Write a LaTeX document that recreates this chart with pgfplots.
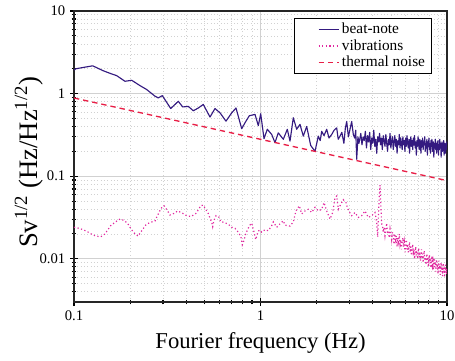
\documentclass[border=0pt]{standalone}
\usepackage{fontspec}
\setmainfont{Liberation Serif}
\usepackage{pgfplots}
\pgfplotsset{compat=1.18}
\definecolor{beat}{RGB}{52,26,128}
\definecolor{vib}{RGB}{225,40,160}
\definecolor{therm}{RGB}{232,30,70}
\begin{document}
\begin{tikzpicture}
\begin{axis}[
  xmode=log, ymode=log, scale only axis, width=279.75pt, height=218.25pt,
  xmin=0.1, xmax=10, ymin=0.003, ymax=10,
  xtick={0.1,1,10}, xticklabels={0.1,1,10},
  ytick={0.01,0.1,1,10}, yticklabels={0.01,0.1,1,10},
  minor xtick={0.2,0.3,0.4,0.5,0.6,0.7,0.8,0.9,2,3,4,5,6,7,8,9},
  minor ytick={0.004,0.005,0.006,0.007,0.008,0.009,0.02,0.03,0.04,0.05,0.06,0.07,0.08,0.09,0.2,0.3,0.4,0.5,0.6,0.7,0.8,0.9,2,3,4,5,6,7,8,9},
  grid=both,
  major grid style={draw=black!18, line width=0.7pt},
  minor grid style={draw=black!18, line width=0.5pt, dotted},
  axis line style={line width=1.1pt, black!85},
  tick style={black, line width=0.8pt}, tick align=center,
  major tick length=6pt, minor tick length=3.5pt,
  xtick pos=bottom, ytick pos=left,
  ticklabel style={font=\fontsize{11}{13}\selectfont},
  xlabel={Fourier frequency (Hz)},
  xlabel style={font=\fontsize{17}{20}\selectfont, at={(axis description cs:0.5,-0.158)}, anchor=base},
  ylabel={Sv\textsuperscript{1/2} (Hz/Hz\textsuperscript{1/2})},
  ylabel style={font=\fontsize{20}{24}\selectfont, at={(axis description cs:-0.099,0.48)}, anchor=base},
  legend style={at={(0.96,0.976)}, anchor=north east, draw=black, line width=0.6pt,
    font=\fontsize{11.5}{13.5}\selectfont, inner xsep=3pt, inner ysep=1.5pt, row sep=-1pt},
  legend cell align=left,
  legend image code/.code={\path[draw=none] (0pt,0pt) rectangle (1pt,0.1pt); \draw[#1] (15pt,0pt) -- (30pt,0pt);},
]
\coordinate (SW) at (rel axis cs:0,0);
\coordinate (NE) at (rel axis cs:1,1);
\addplot[color=beat, line width=0.85pt, line join=round] coordinates {
(0.100,1.93) (0.1025,2.00) (0.113,2.08) (0.126,2.17) (0.1436,1.89) (0.156,1.76) (0.1694,1.65)
(0.1877,1.41) (0.2039,1.45) (0.2258,1.25) (0.2454,1.12) (0.2719,0.93) (0.2831,0.887) (0.2975,0.946)
(0.3301,0.66) (0.3625,0.807) (0.3827,0.69) (0.4102,0.70) (0.4363,0.62) (0.4641,0.67) (0.4935,0.74)
(0.5361,0.52) (0.5702,0.66) (0.6067,0.585) (0.6531,0.464) (0.7009,0.585) (0.7390,0.67) (0.7930,0.376)
(0.8260,0.444) (0.8710,0.54) (0.9344,0.56) (0.9732,0.41) (1.0025,0.57) (1.0443,0.285) (1.0877,0.37)
(1.1484,0.32) (1.1960,0.255) (1.2454,0.335) (1.3252,0.28) (1.3922,0.37) (1.4394,0.266) (1.4993,0.51)
(1.5635,0.37) (1.6285,0.424) (1.6961,0.306) (1.7689,0.40) (1.8583,0.236) (1.9600,0.20) (2.0415,0.306)
(2.09,0.27) (2.1291,0.35) (2.19,0.31) (2.2646,0.37) (2.33,0.29) (2.4088,0.32) (2.48,0.36) (2.5620,0.385)
(2.61,0.28) (2.6686,0.306) (2.73,0.34) (2.80,0.25) (2.85,0.38) (2.8993,0.46) (2.96,0.30) (3.0197,0.37)
(3.0832,0.46) (3.1452,0.32) (3.20,0.29) (3.24,0.36) (3.2801,0.16) (3.33,0.30) (3.37,0.25) (3.4163,0.29)
(3.45,0.33) (3.50,0.24) (3.55,0.30) (3.60,0.27) (3.65,0.35) (3.70,0.22) (3.75,0.31) (3.80,0.26)
(3.85,0.34) (3.90,0.21) (3.95,0.29) (4.00,0.25) (4.05,0.36) (4.10,0.23) (4.15,0.28) (4.20,0.19)
(4.25,0.30) (4.30,0.26) (4.35,0.33) (4.40,0.24) (4.45,0.29) (4.50,0.21) (4.55,0.31) (4.60,0.27)
(4.65,0.23) (4.70,0.32) (4.75,0.25) (4.80,0.20) (4.85,0.28) (4.90,0.24) (4.95,0.33) (5.00,0.22)
(5.05,0.27) (5.10,0.30) (5.15,0.21) (5.20,0.26) (5.25,0.31) (5.30,0.23) (5.35,0.28) (5.40,0.19)
(5.45,0.27) (5.50,0.24) (5.55,0.32) (5.60,0.22) (5.65,0.29) (5.70,0.25) (5.75,0.21) (5.80,0.30)
(5.85,0.24) (5.90,0.27) (5.95,0.20) (6.00,0.29) (6.05,0.23) (6.10,0.31) (6.15,0.25) (6.20,0.22)
(6.25,0.28) (6.30,0.19) (6.35,0.26) (6.40,0.30) (6.45,0.23) (6.50,0.27) (6.55,0.21) (6.60,0.29)
(6.65,0.24) (6.70,0.31) (6.75,0.22) (6.80,0.26) (6.85,0.18) (6.90,0.27) (6.95,0.23) (7.00,0.30)
(7.05,0.24) (7.10,0.21) (7.15,0.28) (7.20,0.25) (7.25,0.19) (7.30,0.27) (7.35,0.23) (7.40,0.29)
(7.45,0.21) (7.50,0.26) (7.55,0.24) (7.60,0.30) (7.65,0.20) (7.70,0.25) (7.75,0.22) (7.80,0.28)
(7.85,0.18) (7.90,0.26) (7.95,0.23) (8.00,0.29) (8.05,0.21) (8.10,0.25) (8.15,0.19) (8.20,0.27)
(8.25,0.23) (8.30,0.28) (8.35,0.20) (8.40,0.24) (8.45,0.26) (8.50,0.17) (8.55,0.25) (8.60,0.22)
(8.65,0.28) (8.70,0.21) (8.75,0.24) (8.80,0.19) (8.85,0.26) (8.90,0.23) (8.95,0.27) (9.00,0.18)
(9.05,0.24) (9.10,0.21) (9.15,0.28) (9.20,0.22) (9.25,0.25) (9.30,0.17) (9.35,0.23) (9.40,0.26)
(9.45,0.20) (9.50,0.24) (9.55,0.22) (9.60,0.27) (9.65,0.18) (9.70,0.23) (9.75,0.25) (9.80,0.19)
(9.85,0.24) (9.90,0.21) (9.95,0.26) (10.0,0.22)
};
\addlegendentry{beat-note}
\addplot[color=vib, line width=0.9pt, dash pattern=on 0.9pt off 1.8pt] coordinates {
(0.100,0.0241) (0.1064,0.0234) (0.1122,0.0225) (0.1193,0.0210) (0.1260,0.0195) (0.1323,0.0188)
(0.1391,0.0185) (0.1461,0.0199) (0.1516,0.0223) (0.1573,0.0252) (0.1673,0.0281) (0.1765,0.0303)
(0.1854,0.0292) (0.1941,0.0268) (0.2004,0.0238) (0.2080,0.0210) (0.2203,0.0188) (0.2278,0.0210)
(0.2442,0.0262) (0.2578,0.0277) (0.2719,0.0287) (0.2777,0.0321) (0.2847,0.0358) (0.2928,0.0408)
(0.3038,0.0439) (0.3164,0.0386) (0.3272,0.0339) (0.3438,0.0355) (0.3597,0.0380) (0.3808,0.0358)
(0.4022,0.0333) (0.4241,0.0325) (0.4494,0.0352) (0.4641,0.0391) (0.4780,0.0439) (0.4935,0.0447)
(0.5250,0.0352) (0.5361,0.0311) (0.5475,0.0277) (0.5543,0.0245) (0.5633,0.0292) (0.5773,0.0333)
(0.5991,0.0320) (0.6118,0.0281) (0.6374,0.0277) (0.6720,0.0262) (0.7009,0.0241) (0.7300,0.0234)
(0.7603,0.0210) (0.7860,0.0184) (0.7988,0.0148) (0.8088,0.0158) (0.8330,0.0200) (0.8539,0.0228)
(0.8784,0.0256) (0.8970,0.0271) (0.9229,0.0210) (0.9425,0.0171) (0.9541,0.0188) (0.9732,0.0217)
(0.9938,0.0223) (1.0148,0.0210) (1.0571,0.0225) (1.1012,0.0219) (1.1484,0.0252) (1.1712,0.0280)
(1.2216,0.0241) (1.2722,0.0265) (1.3252,0.0289) (1.3532,0.0256) (1.4394,0.0249) (1.4993,0.0280)
(1.5499,0.0380) (1.6143,0.0439) (1.6630,0.0350) (1.7321,0.0380) (1.8043,0.0398) (1.8816,0.0364)
(1.9600,0.0420) (2.0415,0.0380) (2.1291,0.0398) (2.1904,0.0480) (2.2646,0.0380) (2.3587,0.0303)
(2.4384,0.0364) (2.5089,0.0551) (2.5620,0.0577) (2.6132,0.0398) (2.6686,0.0439) (2.7797,0.0520)
(2.8735,0.0480) (2.9202,0.0420) (2.9932,0.0371) (3.0832,0.0333) (3.2115,0.0364) (3.3450,0.0317)
(3.4882,0.0333) (3.6333,0.0380) (3.7844,0.0317) (3.9465,0.0333) (4.1106,0.0364) (4.1985,0.0277)
(4.2500,0.0184) (4.3032,0.0398) (4.3351,0.0577) (4.3731,0.0780) (4.4107,0.0480) (4.4657,0.0265)
(4.50,0.026) (4.55,0.021) (4.60,0.024) (4.65,0.019) (4.70,0.023) (4.75,0.027) (4.80,0.020) (4.85,0.022)
(4.90,0.018) (4.95,0.023) (5.00,0.020) (5.05,0.017) (5.10,0.021) (5.15,0.019) (5.20,0.015) (5.25,0.020)
(5.30,0.017) (5.35,0.019) (5.40,0.014) (5.45,0.018) (5.50,0.016) (5.55,0.020) (5.60,0.015) (5.65,0.017)
(5.70,0.013) (5.75,0.016) (5.80,0.018) (5.85,0.014) (5.90,0.016) (5.95,0.012) (6.00,0.015) (6.05,0.017)
(6.10,0.013) (6.15,0.015) (6.20,0.012) (6.25,0.014) (6.30,0.016) (6.35,0.012) (6.40,0.014) (6.45,0.011)
(6.50,0.013) (6.55,0.015) (6.60,0.012) (6.65,0.013) (6.70,0.010) (6.75,0.012) (6.80,0.014) (6.85,0.011)
(6.90,0.0125) (6.95,0.010) (7.00,0.012) (7.05,0.0135) (7.10,0.0105) (7.15,0.012) (7.20,0.0095) (7.25,0.011)
(7.30,0.013) (7.35,0.010) (7.40,0.0115) (7.45,0.009) (7.50,0.011) (7.55,0.0125) (7.60,0.0095) (7.65,0.0105)
(7.70,0.0085) (7.75,0.010) (7.80,0.0115) (7.85,0.009) (7.90,0.0105) (7.95,0.008) (8.00,0.010) (8.05,0.0112)
(8.10,0.0088) (8.15,0.0098) (8.20,0.0078) (8.25,0.0095) (8.30,0.0108) (8.35,0.0085) (8.40,0.0093) (8.45,0.0074)
(8.50,0.0090) (8.55,0.0102) (8.60,0.0080) (8.65,0.0092) (8.70,0.0070) (8.75,0.0088) (8.80,0.0098) (8.85,0.0078)
(8.90,0.0086) (8.95,0.0066) (9.00,0.0085) (9.05,0.0095) (9.10,0.0075) (9.15,0.0083) (9.20,0.0064) (9.25,0.0080)
(9.30,0.0090) (9.35,0.0072) (9.40,0.0080) (9.45,0.0062) (9.50,0.0078) (9.55,0.0088) (9.60,0.0070) (9.65,0.0077)
(9.70,0.0060) (9.75,0.0075) (9.80,0.0085) (9.85,0.0068) (9.90,0.0076) (9.95,0.0065) (10.0,0.0080)
};
\addlegendentry{vibrations}
\addplot[color=therm, line width=1pt, dash pattern=on 4pt off 3pt] coordinates {(0.1,0.885) (10,0.0885)};
\addlegendentry{thermal noise}
\end{axis}
\pgfresetboundingbox
\path[use as bounding box] (SW) ++(-55.5pt,-43.5pt) rectangle ([shift={(6pt,8.25pt)}]NE);
\end{tikzpicture}
\end{document}
